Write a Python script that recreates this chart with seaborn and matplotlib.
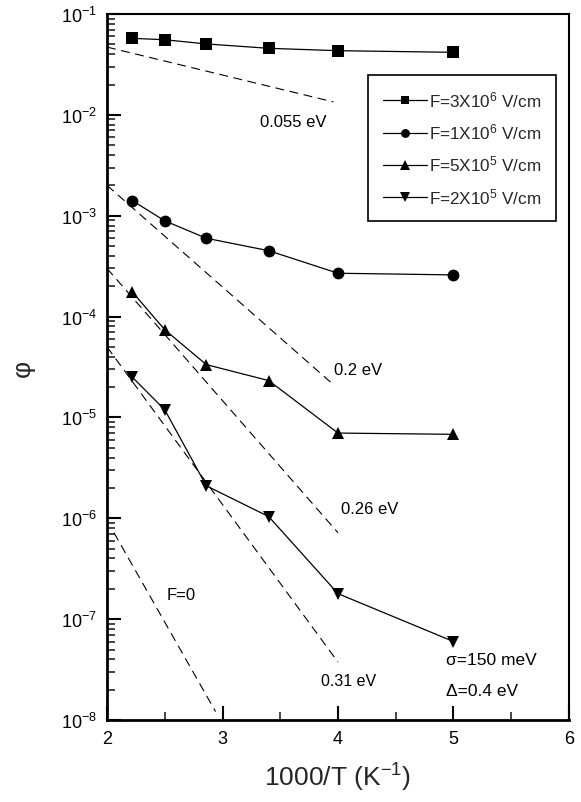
import numpy as np
import pandas as pd
import matplotlib
matplotlib.use("Agg")
import matplotlib.pyplot as plt
from matplotlib.ticker import LogLocator, LogFormatterSciNotation, MultipleLocator, NullFormatter
import seaborn as sns

sns.set_theme(style="white")
plt.rcParams["font.family"] = ["Liberation Sans", "DejaVu Sans"]
plt.rcParams["mathtext.fontset"] = "custom"
plt.rcParams["mathtext.rm"] = "Liberation Sans"
plt.rcParams["mathtext.it"] = "Liberation Sans:italic"
plt.rcParams["mathtext.bf"] = "Liberation Sans:bold"
plt.rcParams["axes.unicode_minus"] = False

# inverse temperature 1000/T (K^-1)
inv_T = [2.22, 2.5, 2.86, 3.4, 4.0, 5.0]

# phi for each applied field
phi_3e6 = [0.0574, 0.0556, 0.0505, 0.0457, 0.0433, 0.0417]
phi_1e6 = [1.41e-3, 8.9e-4, 5.98e-4, 4.5e-4, 2.69e-4, 2.59e-4]
phi_5e5 = [1.75e-4, 7.4e-5, 3.34e-5, 2.32e-5, 7.0e-6, 6.8e-6]
phi_2e5 = [2.5e-5, 1.19e-5, 2.1e-6, 1.04e-6, 1.79e-7, 6.0e-8]

series_labels = [r"F=3X10$^{6}$ V/cm", r"F=1X10$^{6}$ V/cm",
                 r"F=5X10$^{5}$ V/cm", r"F=2X10$^{5}$ V/cm"]
series_markers = ["s", "o", "^", "v"]

# Arrhenius guide lines: activation energy (eV), x range, value at start
fit_ea = [0.055, 0.2, 0.26, 0.31, 0.4]
fit_x0 = [2.0, 2.0, 2.0, 2.0, 2.06]
fit_x1 = [3.96, 3.96, 4.0, 4.0, 2.94]
fit_y0 = [0.047, 2.0e-3, 3.0e-4, 5.0e-5, 7.2e-7]
K_B = 8.617e-5  # eV/K

fig = plt.figure(figsize=(5.81, 8.03), dpi=100)
ax = fig.add_axes([0.1842, 0.1021, 0.7951, 0.8792])

for vals, lab, mk in zip([phi_3e6, phi_1e6, phi_5e5, phi_2e5], series_labels, series_markers):
    ms = 9 if mk in ("^", "v") else (8 if mk == "s" else 8.5)
    sns.lineplot(x=inv_T, y=vals, ax=ax, color="black", lw=0.9, marker=mk,
                 markersize=ms, markeredgewidth=0, label=lab, sort=False)

for ea, x0, x1, y0 in zip(fit_ea, fit_x0, fit_x1, fit_y0):
    xs = np.array([x0, x1])
    # phi ~ exp(-Ea/kT), with x = 1000/T
    ys = y0 * np.exp(-ea * (xs - x0) / (1000.0 * K_B))
    sns.lineplot(x=xs, y=ys, ax=ax, color="black", lw=0.8, legend=False,
                 linestyle=(0, (8, 5)))

ax.set_yscale("log")
ax.set_xlim(2, 6)
ax.set_ylim(1e-8, 1e-1)

ax.xaxis.set_major_locator(MultipleLocator(1))
ax.xaxis.set_minor_locator(MultipleLocator(0.5))
ax.yaxis.set_major_locator(LogLocator(base=10, numticks=20))
ax.yaxis.set_minor_locator(LogLocator(base=10, subs=np.arange(2, 10), numticks=20))
ax.yaxis.set_major_formatter(LogFormatterSciNotation())
ax.yaxis.set_minor_formatter(NullFormatter())

ax.tick_params(axis="both", which="major", direction="in", length=10, width=1.5,
               labelsize=13, colors="black", pad=7)
ax.tick_params(axis="both", which="minor", direction="in", length=6, width=1.2)
ax.tick_params(top=False, right=False, bottom=True, left=True, which="both")

for side, lw in zip(["left", "bottom", "top", "right"], [2.0, 2.0, 1.5, 1.5]):
    ax.spines[side].set_visible(True)
    ax.spines[side].set_color("black")
    ax.spines[side].set_linewidth(lw)

ax.set_xlabel(r"1000/T (K$^{-1}$)", fontsize=19, labelpad=10)
ax.set_ylabel("φ", fontsize=19, labelpad=19)

txt = dict(color="black", va="center", ha="left")
ax.text(3.325, 8.5e-3, "0.055 eV", fontsize=12, **txt)
ax.text(3.965, 2.96e-5, "0.2 eV", fontsize=12, **txt)
ax.text(4.026, 1.24e-6, "0.26 eV", fontsize=12, **txt)
ax.text(3.853, 2.45e-8, "0.31 eV", fontsize=11.5, **txt)
ax.text(2.52, 1.75e-7, "F=0", fontsize=12, **txt)
ax.text(4.935, 3.96e-8, "σ=150 meV", fontsize=12.5, **txt)
ax.text(4.935, 1.95e-8, "Δ=0.4 eV", fontsize=12.5, **txt)

leg = ax.legend(loc="upper left", bbox_to_anchor=(0.565, 0.9136), fontsize=12.3,
                frameon=True, fancybox=False, edgecolor="black", framealpha=1,
                handlelength=2.6, handletextpad=0.1, labelspacing=0.72,
                borderpad=0.85, borderaxespad=0, markerscale=0.75)
leg.get_frame().set_linewidth(1.2)

fig.savefig("out.png", dpi=100, facecolor="white")
